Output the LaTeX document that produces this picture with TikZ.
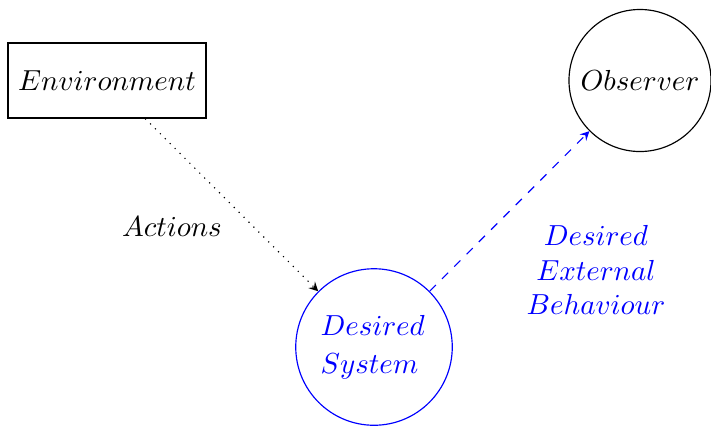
\documentclass[tikz,border=0pt]{standalone}
\usetikzlibrary{arrows}
\begin{document}
\begin{tikzpicture}[x=0.345pt,y=-0.345pt,
  boxnode/.style={draw, minimum width=68.3pt, minimum height=25.9pt, inner sep=0pt},
  circnode/.style={draw, circle, inner sep=0pt}]
\useasboundingbox (0,0) rectangle (711,425);
\node[boxnode] (env) at (107,80.5) {$Environment$};
\node[circnode, minimum size=49pt] (obs) at (640,80.5) {$Observer$};
\node[circnode, blue, minimum size=54pt] (sys) at (374,347) {};
\node[blue, align=left, inner sep=0pt, anchor=west] (systxt) at (320,347) {$Desired$\\[1pt]$System$};
\node (act) at (172,227) {$Actions$};
\node[blue, align=center] (beh) at (596,270) {$Desired$\\$External$\\$Behaviour$};
\draw[dotted,-stealth] (env) -- (sys);
\draw[dashed,blue,-stealth] (sys) -- (obs);
\end{tikzpicture}
\end{document}
